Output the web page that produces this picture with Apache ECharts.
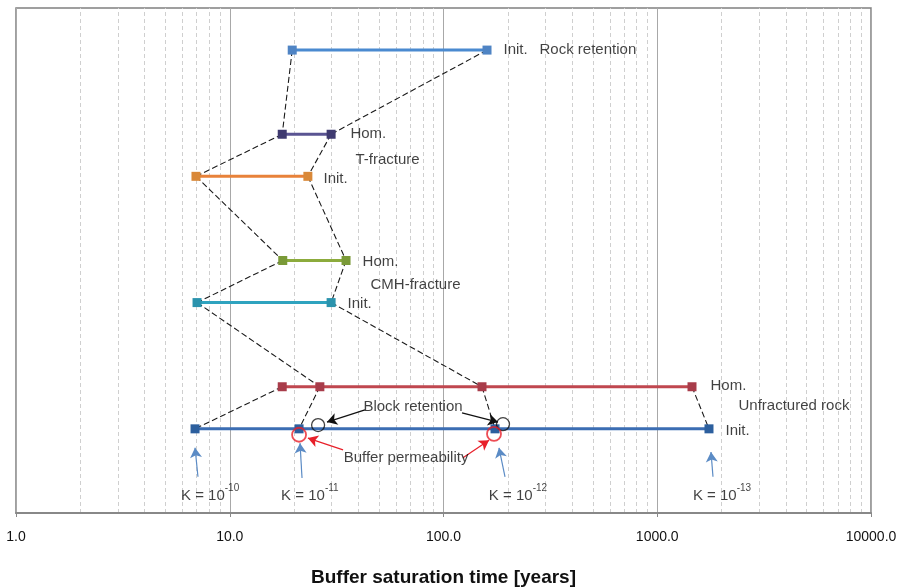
<!DOCTYPE html>
<html><head><meta charset="utf-8">
<script src="https://cdn.jsdelivr.net/npm/echarts@6/dist/echarts.min.js"></script>
<style>html,body{margin:0;padding:0;background:#fff}#c{width:901px;height:588px}</style>
</head><body><div id="c"></div>
<script>
// ---- data (buffer saturation time in years) ----
var rockRetention = [19.6, 159.8];
var tFractureHom = [17.6, 29.8];
var tFractureInit = [6.95, 23.2];
var cmhFractureHom = [17.7, 35.0];
var cmhFractureInit = [7.03, 29.8];
var unfracturedHom = [17.6, 26.4, 151.4, 1454];
var unfracturedInit = [6.88, 21.1, 174.2, 1746];
// row levels (hidden vertical axis)
var rowLevels = [11, 9, 8, 6, 5, 3, 2];
var rowNames = ['Rock retention Init.', 'T-fracture Hom.', 'T-fracture Init.', 'CMH-fracture Hom.', 'CMH-fracture Init.', 'Unfractured rock Hom.', 'Unfractured rock Init.'];
var rowColors = ['#4a8ad0', '#5a5492', '#e8823a', '#8cab3c', '#2fa3bf', '#c0474f', '#3b6db3'];
var markerColors = ['#4f84c4', '#3f3a70', '#d98838', '#7a9a38', '#2b93ad', '#a83c4a', '#2c5f9e'];
// dashed links: [rowA, pointA, rowB, pointB] (same K value)
var links = [[0,0,1,0],[0,1,1,1],[1,0,2,0],[1,1,2,1],[2,0,3,0],[2,1,3,1],[3,0,4,0],[3,1,4,1],[4,0,5,1],[4,1,5,2],[5,0,6,0],[5,1,6,1],[5,2,6,2],[5,3,6,3]];
// x-axis ticks
var majorTicks = [1, 10, 100, 1000, 10000];
var minorTicks = [2,3,4,5,6,7,8,9,20,30,40,50,60,70,80,90,200,300,400,500,600,700,800,900,2000,3000,4000,5000,6000,7000,8000,9000];
// annotation circles
var blockRetention = [[25.9, 2.09], [189.8, 2.11]];
var bufferPermeability = [[21.1, 1.86], [172.3, 1.88]];
// text labels [x, y, text]
var textLabels = [
  [189.8, 11, 'Init.'], [279.8, 11, 'Rock retention'],
  [36.5, 9, 'Hom.'], [38.5, 8.39, 'T-fracture'], [27.3, 7.93, 'Init.'],
  [41.6, 5.96, 'Hom.'], [45.3, 5.42, 'CMH-fracture'], [35.4, 4.97, 'Init.'],
  [1765, 3.02, 'Hom.'], [2387, 2.54, 'Unfractured rock'], [2075, 1.95, 'Init.']
];
var kLabels = [[8.09, 0.47, '10'], [23.7, 0.47, '11'], [223.1, 0.47, '12'], [2009, 0.47, '13']];
var blueArrows = [[[7.10,0.86],[6.88,1.55]], [[21.78,0.83],[21.32,1.66]], [[194.0,0.86],[181.8,1.55]], [[1823,0.86],[1784,1.45]]];
var blackArrows = [[[42.9,2.45],[28.5,2.16]], [[122.1,2.38],[179.9,2.16]]];
var redArrows = [[[33.9,1.50],[23.2,1.78]], [[123.4,1.31],[163.3,1.73]]];
var blockText = [72.0, 2.52, 'Block retention'];
var bufferText = [66.8, 1.30, 'Buffer permeability'];

var rows = [rockRetention, tFractureHom, tFractureInit, cmhFractureHom, cmhFractureInit, unfracturedHom, unfracturedInit];
var FONT = "'Liberation Sans', Arial, sans-serif";
var TXT = '#111';
var series = [];

// minor grid lines
series.push({
  type: 'line', data: [], silent: true, z: 0,
  markLine: { silent: true, z: 0, symbol: 'none', label: {show: false}, animation: false,
    lineStyle: {color: '#cfcfcf', type: [4, 3], width: 1},
    data: minorTicks.map(function(v){ return {xAxis: v}; }) }
});

// dashed links
links.forEach(function(l){
  series.push({ type: 'line', silent: true, symbol: 'none', z: 2,
    lineStyle: {color: '#1a1a1a', width: 1.1, type: [6, 3]},
    data: [[rows[l[0]][l[1]], rowLevels[l[0]]], [rows[l[2]][l[3]], rowLevels[l[2]]]] });
});

// horizontal ranges
rows.forEach(function(r, i){
  series.push({ type: 'line', name: rowNames[i], z: 3,
    symbol: 'rect', symbolSize: 9, showAllSymbol: true,
    lineStyle: {color: rowColors[i], width: 3},
    itemStyle: {color: markerColors[i]},
    data: r.map(function(v){ return [v, rowLevels[i]]; }) });
});

// circles
series.push({ type: 'scatter', z: 6, symbol: 'circle', symbolSize: 13,
  itemStyle: {color: 'rgba(255,255,255,0)', borderColor: '#111', borderWidth: 1.3}, data: blockRetention });
series.push({ type: 'scatter', z: 6, symbol: 'circle', symbolSize: 14,
  itemStyle: {color: 'rgba(255,255,255,0)', borderColor: '#e8202a', borderWidth: 1.8}, data: bufferPermeability });

// arrows
function arrowSeries(list, color){
  return { type: 'line', data: [], silent: true,
    markLine: { silent: true, z: 7, symbol: ['none', 'arrow'], symbolSize: [9, 10], label: {show: false}, animation: false,
      lineStyle: {color: color, width: 1.2, type: 'solid'},
      data: list.map(function(a){ return [{coord: a[0]}, {coord: a[1]}]; }) } };
}
series.push(arrowSeries(blueArrows, '#5b8bc5'));
series.push(arrowSeries(blackArrows, '#111'));
series.push(arrowSeries(redArrows, '#e8202a'));

// text labels (left anchored)
series.push({ type: 'scatter', z: 8, symbolSize: 1, itemStyle: {color: 'rgba(0,0,0,0)'}, silent: true,
  label: {show: true, position: 'right', distance: 0, color: TXT, fontSize: 15, fontFamily: FONT,
    formatter: function(p){ return p.value[2]; }},
  data: textLabels });
// centered texts
series.push({ type: 'scatter', z: 8, symbolSize: 1, itemStyle: {color: 'rgba(0,0,0,0)'}, silent: true,
  label: {show: true, position: 'inside', color: TXT, fontSize: 15, fontFamily: FONT,
    formatter: function(p){ return p.value[2]; }},
  data: [blockText, bufferText] });
series.push({ type: 'scatter', z: 8, symbolSize: 1, itemStyle: {color: 'rgba(0,0,0,0)'}, silent: true,
  label: {show: true, position: 'inside', color: TXT, fontFamily: FONT,
    formatter: function(p){ return '{a|K = 10}{s|-' + p.value[2] + '}'; },
    rich: { a: {fontSize: 15, fontFamily: FONT, color: TXT, verticalAlign: 'bottom', lineHeight: 20},
            s: {fontSize: 10, fontFamily: FONT, color: TXT, verticalAlign: 'top', lineHeight: 20} } },
  data: kLabels });

var chart = echarts.init(document.getElementById('c'), null, {renderer: 'canvas'});
chart.setOption({
  animation: false,
  backgroundColor: '#fff',
  grid: {left: 16, right: 30, top: 8, bottom: 75, containLabel: false, outerBoundsMode: 'none',
    show: true, borderColor: '#808080', borderWidth: 1.5, backgroundColor: 'transparent'},
  xAxis: {
    type: 'log', logBase: 10, min: majorTicks[0], max: majorTicks[majorTicks.length - 1],
    axisLine: {show: true, lineStyle: {color: '#888', width: 2}},
    axisTick: {show: true, length: 4, inside: false, lineStyle: {color: '#888'}},
    axisLabel: {color: TXT, fontSize: 14, fontFamily: FONT, margin: 17,
      formatter: function(v){ return Number(v).toFixed(1); }},
    splitLine: {show: true, lineStyle: {color: '#a8a8a8', width: 1}},
    name: 'Buffer saturation time [years]', nameLocation: 'middle', nameGap: 55,
    nameTextStyle: {color: '#111', fontSize: 19, fontWeight: 'bold', fontFamily: FONT}
  },
  yAxis: {type: 'value', min: 0, max: 12, show: false, splitLine: {show: false}},
  series: series
});
</script></body></html>
